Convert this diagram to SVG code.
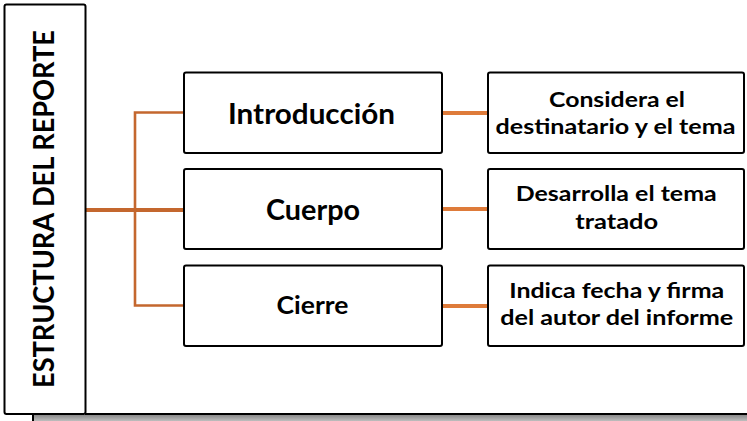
<svg xmlns="http://www.w3.org/2000/svg" width="747" height="421" viewBox="0 0 747 421">
<style>
.box{fill:#fff;stroke:#000;stroke-width:2}
.t{font-family:Lato,"Liberation Sans",sans-serif;font-weight:bold;fill:#000;text-anchor:middle}
.s{font-size:20.5px}
.c1{stroke:#C4672E;fill:none}
.c2{stroke:#DE7B3A;fill:none;stroke-width:4}
</style>
<defs>
<linearGradient id="sh" x1="0" y1="0" x2="0" y2="1">
<stop offset="0" stop-color="#8a8a8a"/>
<stop offset="1" stop-color="#cfcfcf"/>
</linearGradient>
</defs>
<rect width="747" height="421" fill="#fff"/>
<g id="frame">
<rect x="33" y="415" width="716" height="8" fill="url(#sh)"/>
<line x1="33" y1="414" x2="33" y2="421" stroke="#000" stroke-width="2"/>
<line x1="85" y1="414" x2="747" y2="414" stroke="#000" stroke-width="2"/>
</g>
<g id="connectors">
<line class="c1" x1="85" y1="210" x2="184" y2="210" stroke-width="4"/>
<polyline class="c1" points="184,112.5 135,112.5 135,305.5 184,305.5" stroke-width="2.6"/>
<line class="c2" x1="442" y1="113" x2="488" y2="113"/>
<line class="c2" x1="442" y1="209" x2="488" y2="209"/>
<line class="c2" x1="442" y1="306" x2="488" y2="306"/>
</g>
<g id="root">
<rect class="box" x="4.5" y="4.5" width="81" height="409.5" rx="2"/>
<text class="t" transform="translate(54,209) rotate(-90)" font-size="28" textLength="358" lengthAdjust="spacingAndGlyphs">ESTRUCTURA DEL REPORTE</text>
</g>
<g id="intro">
<rect class="box" x="184" y="72.5" width="258" height="80.5" rx="2"/>
<text class="t" x="311.5" y="123.5" font-size="29" textLength="167" lengthAdjust="spacingAndGlyphs">Introducción</text>
</g>
<g id="cuerpo">
<rect class="box" x="184" y="169" width="258" height="80" rx="2"/>
<text class="t" x="313" y="219.5" font-size="29" textLength="94" lengthAdjust="spacingAndGlyphs">Cuerpo</text>
</g>
<g id="cierre">
<rect class="box" x="184" y="265.5" width="258" height="80.5" rx="2"/>
<text class="t" x="312.5" y="314" font-size="25" textLength="72" lengthAdjust="spacingAndGlyphs">Cierre</text>
</g>
<g id="d1">
<rect class="box" x="488" y="72.5" width="256" height="80.5" rx="2"/>
<text class="t s" x="617" y="106.5" textLength="136" lengthAdjust="spacingAndGlyphs">Considera el</text>
<text class="t s" x="615.5" y="133.5" textLength="240" lengthAdjust="spacingAndGlyphs">destinatario y el tema</text>
</g>
<g id="d2">
<rect class="box" x="488" y="169" width="256" height="80" rx="2"/>
<text class="t s" x="616.2" y="201" textLength="201" lengthAdjust="spacingAndGlyphs">Desarrolla el tema</text>
<text class="t s" x="616.7" y="228.5" textLength="83" lengthAdjust="spacingAndGlyphs">tratado</text>
</g>
<g id="d3">
<rect class="box" x="488" y="265.5" width="256" height="80.5" rx="2"/>
<text class="t s" x="616.7" y="298.3" textLength="215" lengthAdjust="spacingAndGlyphs">Indica fecha y firma</text>
<text class="t s" x="616.7" y="324.5" textLength="233" lengthAdjust="spacingAndGlyphs">del autor del informe</text>
</g>
</svg>
